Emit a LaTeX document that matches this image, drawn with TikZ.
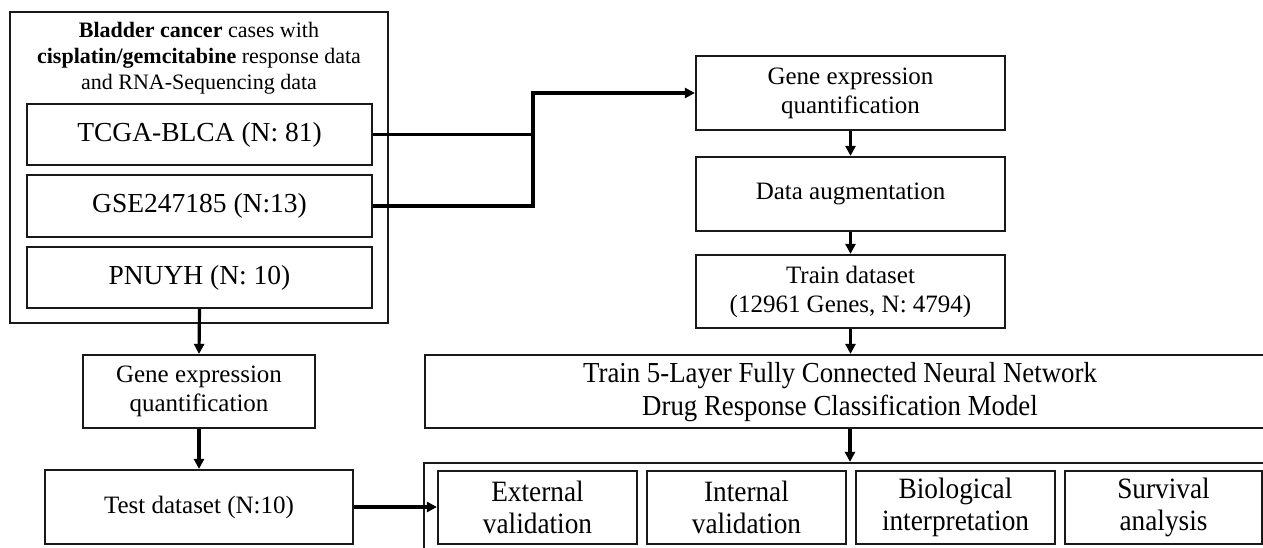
\documentclass[tikz,border=0pt]{standalone}
\usepackage{fontspec}
\setmainfont{Liberation Serif}
\newfontfamily\condfont{Liberation Serif}[FakeStretch=0.925]
\usetikzlibrary{arrows.meta}
\tikzset{
  box/.style={draw=black!90, line width=2.2pt, inner sep=0pt, align=center, text=black},
  fA/.style={font=\fontsize{27.5}{32}\selectfont},
  fB/.style={font=\fontsize{25}{29}\selectfont},
  fC/.style={font=\fontsize{22}{26}\selectfont},
  fD/.style={font=\condfont\fontsize{29}{33}\selectfont},
  fE/.style={font=\condfont\fontsize{29.5}{32}\selectfont},
  conn/.style={line width=3.2pt, black, line join=miter},
  arr/.style={conn, -{Triangle[length=10pt,width=10pt]}}
}
\begin{document}
\begin{tikzpicture}[x=1pt,y=-1pt]
\useasboundingbox (0,0) rectangle (1263,547);
\clip (0,0) rectangle (1263,547);
% left group
\node[box, minimum width=378, minimum height=311] (outer) at (199,167.5) {};
\node[fC, align=center, inner sep=0pt] (title) at (199,58) {\textbf{Bladder cancer} cases with\\\textbf{cisplatin/gemcitabine} response data\\and RNA-Sequencing data};
\node[box, fA, minimum width=345, minimum height=61] (tcga) at (199.5,134.5) {TCGA-BLCA (N: 81)};
\node[box, fA, minimum width=345, minimum height=62] (gse) at (199.5,206) {GSE247185 (N:13)};
\node[box, fA, minimum width=345, minimum height=61] (pnuyh) at (199.5,277.5) {PNUYH (N: 10)};
\node[box, fB, minimum width=232, minimum height=73] (lgene) at (199,391.5) {Gene expression\\quantification};
\node[box, fB, minimum width=308, minimum height=74] (test) at (199,507) {Test dataset (N:10)};
% right column
\node[box, fB, minimum width=309, minimum height=74] (rgene) at (850.5,93) {Gene expression\\quantification};
\node[box, fB, minimum width=309, minimum height=74] (aug) at (850.5,194) {Data augmentation};
\node[box, fB, minimum width=309, minimum height=73] (train) at (850.5,291.5) {Train dataset\\(12961 Genes, N: 4794)};
\node[box, minimum width=850, minimum height=73] (model) at (850,391.5) {};
\node[fD, align=center, inner sep=0pt] (modeltxt) at (840,392) {Train 5-Layer Fully Connected Neural Network\\Drug Response Classification Model};
\node[box, minimum width=856, minimum height=97] (bottom) at (852,511.5) {};
\node[box, fE, minimum width=199, minimum height=73] (ext) at (537.5,507.5) {External\\validation};
\node[box, fE, minimum width=199, minimum height=73] (int) at (746.5,507.5) {Internal\\validation};
\node[box, fE, minimum width=199, minimum height=73] (bio) at (955.5,507.5) {Biological\\interpretation};
\node[box, fE, minimum width=197, minimum height=73] (surv) at (1163.5,507.5) {Survival\\analysis};
% connectors
\coordinate (jt) at (533,93);
\draw[conn] (tcga.east) -| (jt);
\draw[arr] (gse.east) -| (jt) -- (rgene.west);
\draw[arr] (pnuyh.south) -- (lgene.north);
\draw[arr] (lgene.south) -- (test.north);
\draw[arr] (test.east) -- (test.east -| ext.west);
\draw[arr] (rgene.south) -- (aug.north);
\draw[arr] (aug.south) -- (train.north);
\draw[arr] (train.south) -- (train.south |- model.north);
\draw[arr] (model.south) -- (model.south |- bottom.north);
\end{tikzpicture}
\end{document}
